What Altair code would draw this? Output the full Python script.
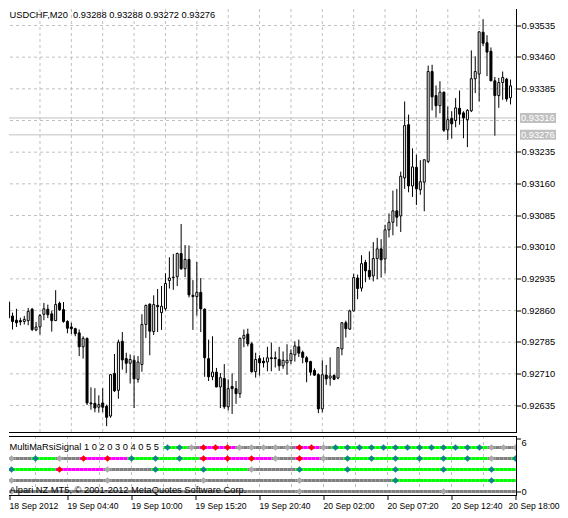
import json
import altair as alt
import pandas as pd

FONT = "Liberation Sans"
FS = 9.3
FS_T = 8.6

# ---------------- data ----------------
symbol = "USDCHF"
timeframe = "M20"
last_ohlc = [0.93288, 0.93288, 0.93272, 0.93276]
ask_price = 0.93316
bid_price = 0.93276

# candle prices in points (1e-5), bar 0 = 18 Sep 2012 23:20, 20-minute bars
open_pts = [92880, 92847, 92837, 92836, 92834, 92836, 92863, 92814, 92821, 92851,
            92863, 92852, 92836, 92877, 92862, 92834, 92821, 92817, 92807, 92774,
            92794, 92641, 92640, 92631, 92641, 92633, 92610, 92711, 92671, 92787,
            92746, 92735, 92742, 92697, 92732, 92827, 92875, 92810, 92872, 92855,
            92864, 92931, 92938, 92940, 92995, 92959, 92981, 92896, 92893, 92903,
            92863, 92746, 92703, 92714, 92679, 92699, 92632, 92680, 92675, 92663,
            92794, 92804, 92781, 92715, 92746, 92740, 92738, 92748, 92748, 92744,
            92729, 92736, 92741, 92755, 92774, 92761, 92748, 92739, 92718, 92708,
            92627, 92707, 92700, 92706, 92700, 92769, 92831, 92816, 92859, 92937,
            92913, 92974, 92955, 92942, 92983, 93006, 92982, 93051, 93069, 93096,
            93084, 93174, 93300, 93155, 93199, 93146, 93164, 93213, 93426, 93369,
            93345, 93377, 93288, 93315, 93310, 93339, 93328, 93312, 93333, 93409,
            93420, 93519, 93494, 93474, 93404, 93369, 93400, 93408, 93364]
high_pts = [92884, 92855, 92864, 92843, 92847, 92866, 92866, 92833, 92852, 92878,
            92874, 92860, 92908, 92881, 92880, 92837, 92831, 92819, 92815, 92799,
            92796, 92678, 92676, 92659, 92676, 92637, 92710, 92757, 92791, 92809,
            92760, 92756, 92754, 92752, 92851, 92874, 92877, 92896, 92911, 92918,
            92948, 92986, 92994, 92997, 93065, 93015, 93014, 92932, 92975, 92937,
            92865, 92791, 92799, 92724, 92712, 92733, 92697, 92711, 92693, 92796,
            92815, 92817, 92785, 92760, 92754, 92749, 92774, 92784, 92763, 92774,
            92763, 92780, 92768, 92787, 92791, 92765, 92752, 92741, 92723, 92711,
            92742, 92731, 92749, 92709, 92773, 92832, 92836, 92862, 92947, 92945,
            92991, 92980, 93000, 93022, 93032, 93029, 93063, 93090, 93144, 93148,
            93189, 93355, 93324, 93244, 93229, 93216, 93218, 93440, 93442, 93393,
            93403, 93379, 93343, 93332, 93363, 93381, 93332, 93337, 93476, 93462,
            93521, 93550, 93512, 93483, 93413, 93411, 93426, 93411, 93407]
low_pts = [92840, 92815, 92821, 92825, 92827, 92825, 92811, 92811, 92803, 92837,
           92842, 92810, 92835, 92859, 92831, 92806, 92804, 92799, 92752, 92746,
           92636, 92625, 92619, 92618, 92619, 92586, 92606, 92667, 92651, 92720,
           92712, 92687, 92629, 92689, 92715, 92795, 92754, 92802, 92809, 92814,
           92860, 92912, 92909, 92918, 92956, 92939, 92891, 92814, 92848, 92809,
           92703, 92693, 92695, 92678, 92629, 92627, 92623, 92615, 92639, 92653,
           92773, 92775, 92713, 92701, 92706, 92725, 92716, 92716, 92725, 92717,
           92722, 92708, 92733, 92739, 92750, 92735, 92690, 92706, 92705, 92617,
           92619, 92684, 92682, 92695, 92697, 92754, 92796, 92814, 92858, 92887,
           92905, 92927, 92933, 92929, 92934, 92938, 92948, 93033, 93038, 93059,
           93046, 93148, 93140, 93129, 93110, 93134, 93095, 93209, 93334, 93317,
           93327, 93283, 93264, 93267, 93294, 93300, 93268, 93247, 93330, 93375,
           93355, 93486, 93415, 93403, 93274, 93340, 93359, 93355, 93348]
close_pts = [92843, 92834, 92831, 92833, 92839, 92858, 92815, 92821, 92848, 92864,
             92850, 92836, 92874, 92862, 92834, 92818, 92817, 92805, 92774, 92794,
             92641, 92639, 92629, 92637, 92631, 92607, 92708, 92670, 92785, 92743,
             92735, 92744, 92698, 92738, 92827, 92872, 92811, 92874, 92869, 92870,
             92924, 92937, 92939, 92995, 92959, 92981, 92897, 92893, 92903, 92864,
             92748, 92703, 92714, 92679, 92701, 92632, 92675, 92675, 92663, 92794,
             92801, 92781, 92715, 92744, 92736, 92736, 92748, 92746, 92746, 92729,
             92742, 92742, 92758, 92776, 92759, 92749, 92738, 92714, 92707, 92627,
             92708, 92698, 92705, 92697, 92772, 92831, 92817, 92859, 92938, 92912,
             92971, 92954, 92940, 92983, 93006, 92980, 93051, 93069, 93096, 93081,
             93178, 93298, 93155, 93200, 93148, 93165, 93217, 93426, 93366, 93345,
             93377, 93287, 93312, 93302, 93340, 93325, 93316, 93334, 93409, 93426,
             93520, 93493, 93472, 93404, 93369, 93400, 93412, 93361, 93392]

grid_prices = [0.92635, 0.92710, 0.92785, 0.92860, 0.92935, 0.93010, 0.93085,
               0.93160, 0.93235, 0.93310, 0.93385, 0.93460, 0.93535]
hidden_label = 0.93310
grid_bars = [8, 16, 24, 32, 40, 48, 56, 64, 72, 80, 88, 96, 104, 112, 120]
time_ticks = [1.5, 16, 32, 48, 64, 80, 96, 112, 128]
time_labels = ["18 Sep 2012", "19 Sep 04:40", "19 Sep 10:00", "19 Sep 15:20",
               "19 Sep 20:40", "20 Sep 02:00", "20 Sep 07:20", "20 Sep 12:40",
               "20 Sep 18:00"]

indicator_name = "MultiMaRsiSignal"
indicator_params = [1, 0, 2, 0, 3, 0, 4, 0, 5, 5]
copyright_text = "Alpari NZ MT5, \u00a9 2001-2012 MetaQuotes Software Corp."
ind_ticks = [0, 6]

# signal rows: B = buy, S = sell, N = neutral
row_levels = [5, 3.75, 2.5, 1.25, 0]
row_first = [41, 2, 2, 2, 2]
row_step = [3, 6, 12, 24, 36]
row_initial = [None, "N", "B", "N", "N"]
row_signals = [
    "BBNSSSNNNNNSSN" + "BBBBBBBBBBBBB" + "NNN",
    "NBNSSBBBSSSNSNBBBBBBNB",
    "BSNBBNBBBBB",
    "NNNNBB",
    "NNNN",
]

# ---------------- frames ----------------
n = len(open_pts)
candles = pd.DataFrame({
    "i": list(range(n)),
    "open": [v / 1e5 for v in open_pts],
    "high": [v / 1e5 for v in high_pts],
    "low": [v / 1e5 for v in low_pts],
    "close": [v / 1e5 for v in close_pts],
})

seg_recs, mark_recs = [], []
for lvl, first, step, init, sigs in zip(row_levels, row_first, row_step, row_initial, row_signals):
    idx = [first + k * step for k in range(len(sigs))]
    for k, s in zip(idx, sigs):
        mark_recs.append({"i": k, "level": lvl, "sig": s})
    start = first if init is None else 2
    for j in range(start, n + 1):
        past = [s for k, s in zip(idx, sigs) if k <= j]
        st = past[-1] if past else init
        seg_recs.append({"x0": j - 1, "x1": j, "level": lvl, "state": st})
seg_df = pd.DataFrame(seg_recs)
mark_df = pd.DataFrame(mark_recs)

# ---------------- geometry ----------------
GRID = "#c0c0c0"
DASH = [3, 3]
W = 508
MAIN_H = 424
IND_H = 60
PX_PER_BAR = 4
X0 = 1.375
PTS_PER_PX = 900 / 380 / 1e5
Y_TOP = 0.9357408
xs = alt.Scale(domain=[X0, X0 + W / PX_PER_BAR], nice=False, zero=False)
ys = alt.Scale(domain=[Y_TOP - MAIN_H * PTS_PER_PX, Y_TOP], nice=False, zero=False)
ys_ind = alt.Scale(domain=[-0.511, 6.307], nice=False, zero=False)

price_axis = alt.Axis(orient="right", values=[p for p in grid_prices if p != hidden_label],
                      format=".5f", tickSize=4, tickColor="black", tickWidth=1,
                      labelPadding=0.5, labelFontSize=FS, labelFont=FONT, labelColor="black",
                      domain=False, grid=False, title=None, translate=0,
                      labelOverlap=False, labelFlush=False)
time_axis = alt.Axis(values=time_ticks,
                     labelExpr=json.dumps(time_labels) + "[round(datum.value / 16)]",
                     tickSize=4, tickColor="black", labelAlign="left", labelBaseline="top",
                     labelPadding=2, labelFontSize=FS_T, labelFont=FONT, labelColor="black",
                     domain=False, grid=False, title=None, translate=0,
                     labelFlush=False, labelOverlap=False,
                     labelOffset={"condition": {"test": "datum.value > 127", "value": -7},
                                  "value": 0})
ind_axis = alt.Axis(orient="right", values=ind_ticks, tickSize=4, tickColor="black",
                    labelPadding=0.5, labelFontSize=FS, labelFont=FONT, labelColor="black",
                    domain=False, grid=False, title=None, translate=0,
                    labelBaseline={"condition": {"test": "datum.value > 3", "value": "top"},
                                   "value": "middle"})


def PY(field):
    return alt.Y(field, scale=ys, axis=price_axis, title=None)


def MX(field):
    return alt.X(field, scale=xs, axis=None, title=None)


def IX(field):
    return alt.X(field, scale=xs, axis=time_axis, title=None)


def IY(field):
    return alt.Y(field, scale=ys_ind, axis=ind_axis, title=None)


one = pd.DataFrame({"k": [0]})

# ---------------- main panel ----------------
gv = alt.Chart(pd.DataFrame({"i": grid_bars})).mark_rule(
    color=GRID, strokeDash=DASH, strokeWidth=1).encode(x=MX("i:Q"))
gh = alt.Chart(pd.DataFrame({"p": grid_prices})).mark_rule(
    color=GRID, strokeDash=DASH, strokeWidth=1).encode(y=PY("p:Q"))

ab = pd.DataFrame({"price": [ask_price, bid_price],
                   "label": [f"{ask_price:.5f}", f"{bid_price:.5f}"]})
ab_lines = alt.Chart(ab).mark_rule(color=GRID, strokeWidth=1).encode(y=PY("price:Q"))
BOX = "M-1,-0.2778L1,-0.2778L1,0.2778L-1,0.2778Z"
ab_box = alt.Chart(ab).mark_point(shape=BOX, size=1296, filled=True, color=GRID,
                                  opacity=1, strokeWidth=0, clip=False).encode(
    x=alt.value(W + 21), y=PY("price:Q"))
ab_text = alt.Chart(ab).mark_text(align="left", baseline="middle", color="white",
                                  fontSize=FS, font=FONT, clip=False).encode(
    x=alt.value(W + 4), y=PY("price:Q"), text="label:N")

wicks = alt.Chart(candles).mark_rule(color="black", strokeWidth=1, clip=True).encode(
    x=MX("i:Q"), y=PY("low:Q"), y2="high:Q")
bodies = alt.Chart(candles).mark_bar(size=2, stroke="black", strokeWidth=1, clip=True).encode(
    x=MX("i:Q"), y=PY("open:Q"), y2="close:Q",
    fill=alt.condition("datum.close >= datum.open", alt.value("white"), alt.value("black")))

header_str = f"{symbol},{timeframe}\u00a0 " + " ".join(f"{v:.5f}" for v in last_ohlc)
header = alt.Chart(pd.DataFrame({"t": [header_str]})).mark_text(
    align="left", baseline="alphabetic", fontSize=FS, font=FONT, color="black").encode(
    x=alt.value(0.5), y=alt.value(8.7), text="t:N")

m_right = alt.Chart(one).mark_rule(color="black", strokeWidth=1).encode(x=alt.value(W - 0.5))
m_bottom = alt.Chart(one).mark_rule(color="black", strokeWidth=1).encode(y=alt.value(MAIN_H - 0.5))

main = alt.layer(gv, gh, ab_lines, wicks, bodies, m_right, m_bottom,
                 ab_box, ab_text, header).properties(width=W, height=MAIN_H)

# ---------------- indicator panel ----------------
gv2 = alt.Chart(pd.DataFrame({"i": grid_bars})).mark_rule(
    color=GRID, strokeDash=DASH, strokeWidth=1).encode(x=IX("i:Q"))
segs = alt.Chart(seg_df).mark_rule(strokeWidth=3, clip=True).encode(
    x=IX("x0:Q"), x2="x1:Q", y=IY("level:Q"),
    color=alt.Color("state:N", scale=alt.Scale(domain=["B", "S", "N"],
                                               range=["#00ff00", "#ff00ff", "#808080"]),
                    legend=None))
marks = alt.Chart(mark_df).mark_point(shape="diamond", filled=True, size=42, opacity=1,
                                      clip=True).encode(
    x=IX("i:Q"), y=IY("level:Q"),
    color=alt.Color("sig:N", scale=alt.Scale(domain=["B", "S", "N"],
                                             range=["#127f8c", "#ff0000", "#aaaaaa"]),
                    legend=None))
name_str = indicator_name + " " + " ".join(str(p) for p in indicator_params)
name_txt = alt.Chart(pd.DataFrame({"t": [name_str]})).mark_text(
    align="left", baseline="alphabetic", fontSize=FS, font=FONT, color="black").encode(
    x=alt.value(0.5), y=alt.value(14), text="t:N")
copy_txt = alt.Chart(pd.DataFrame({"t": [copyright_text]})).mark_text(
    align="left", baseline="alphabetic", fontSize=FS, font=FONT, color="black").encode(
    x=alt.value(0.5), y=alt.value(56.7), text="t:N")

i_top = alt.Chart(one).mark_rule(color="black", strokeWidth=1).encode(y=alt.value(0.5))
i_right = alt.Chart(one).mark_rule(color="black", strokeWidth=1).encode(x=alt.value(W - 0.5))
i_bottom = alt.Chart(one).mark_rule(color="black", strokeWidth=1).encode(y=alt.value(IND_H - 0.5))

ind = alt.layer(gv2, segs, marks, i_top, i_right, i_bottom, name_txt, copy_txt).resolve_scale(
    color="independent").properties(width=W, height=IND_H)

chart = alt.vconcat(main, ind, spacing=1, padding=0).configure_view(strokeWidth=0)

chart.save("out.html", embed_options={"renderer": "svg", "actions": False})
